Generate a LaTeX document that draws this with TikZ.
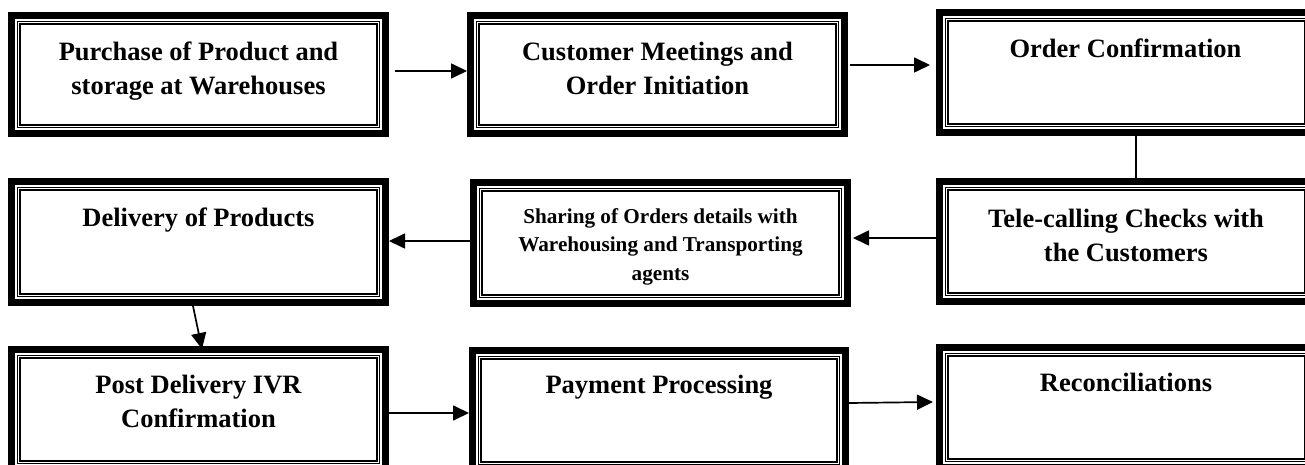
\documentclass[tikz,border=0pt]{standalone}
\usepackage{fontspec}
\setmainfont{Liberation Serif}
\usetikzlibrary{arrows.meta,calc}
\begin{document}
\begin{tikzpicture}[x=1pt,y=-1pt,
  fbox/.style={rectangle, draw=black, line width=6.8pt, fill=white, inner sep=0pt, outer sep=3.4pt,
    minimum width=374.2pt, minimum height=#1,
    path picture={\draw[line width=1.3pt, double=white, double distance=1.3pt]
      ([shift={(7.2pt,-7.2pt)}]path picture bounding box.north west) rectangle
      ([shift={(-7.2pt,7.2pt)}]path picture bounding box.south east);}},
  lbl/.style={anchor=north, align=center, inner sep=0pt,
    font=\fontsize{26.5}{34}\selectfont\bfseries},
  slbl/.style={anchor=north, align=center, inner sep=0pt,
    font=\fontsize{21.2}{28.5}\selectfont\bfseries},
  arr/.style={line width=1.7pt, -{Triangle[length=16pt,width=15pt]}},
  link/.style={line width=1.5pt}
]
\useasboundingbox (0,0) rectangle (1305,465);
\fill[white] (0,0) rectangle (1305,465);
\clip (0,0) rectangle (1305,465);

% boxes
\node[fbox=118.2pt] (b1) at (198.5,74.5) {};
\node[fbox=118.2pt] (b2) at (657.5,74.5) {};
\node[fbox=120.2pt] (b3) at (1126.5,72.5) {};
\node[fbox=121.2pt] (b4) at (198.5,242) {};
\node[fbox=121.2pt] (b5) at (660.5,243) {};
\node[fbox=120.2pt] (b6) at (1126.5,241.5) {};
\node[fbox=120.2pt] (b7) at (198.5,409.5) {};
\node[fbox=120.2pt, minimum width=373.2pt] (b8) at (659,410.5) {};
\node[fbox=120.2pt] (b9) at (1126.5,407.5) {};

% texts
\node[lbl] (t1) at (198.5,38) {\rule{0pt}{22pt}Purchase of Product and\\storage at Warehouses};
\node[lbl] (t2) at (657.5,38) {\rule{0pt}{22pt}Customer Meetings and\\Order Initiation};
\node[lbl] (t3) at (1125.5,35) {\rule{0pt}{22pt}Order Confirmation};
\node[lbl] (t4) at (198.5,204) {\rule{0pt}{22pt}Delivery of Products};
\node[slbl] (t5) at (660.5,201) {\rule{0pt}{22pt}Sharing of Orders details with\\Warehousing and Transporting\\agents};
\node[lbl] (t6) at (1126,205) {\rule{0pt}{22pt}Tele-calling Checks with\\the Customers};
\node[lbl] (t7) at (198.5,371) {\rule{0pt}{22pt}Post Delivery IVR\\Confirmation};
\node[lbl] (t8) at (659,371) {\rule{0pt}{22pt}Payment Processing};
\node[lbl] (t9) at (1126,369) {\rule{0pt}{22pt}Reconciliations};

% connectors
\draw[arr] ([xshift=6pt,yshift=3.5pt]b1.east) -- ([yshift=3.5pt]b2.west);
\draw[arr] ([xshift=2pt,yshift=9.5pt]b2.east) -- ([xshift=-6pt,yshift=7.5pt]b3.west);
\draw[link] ([xshift=9.5pt]b3.south) -- ([xshift=9.5pt]b6.north);
\draw[arr] ([yshift=3.5pt]b6.west) -- ([xshift=2pt,yshift=5pt]b5.east);
\draw[arr] ([yshift=2pt]b5.west) -- ([yshift=1pt]b4.east);
\draw[arr] ([xshift=-5.5pt]b4.south) -- ([xshift=3.5pt,yshift=-3pt]b7.north);
\draw[arr] ([yshift=-3.5pt]b7.east) -- ([yshift=-2.5pt]b8.west);
\draw[arr] ([yshift=7.5pt]b8.east) -- ([xshift=-3pt,yshift=5.5pt]b9.west);
\end{tikzpicture}
\end{document}
